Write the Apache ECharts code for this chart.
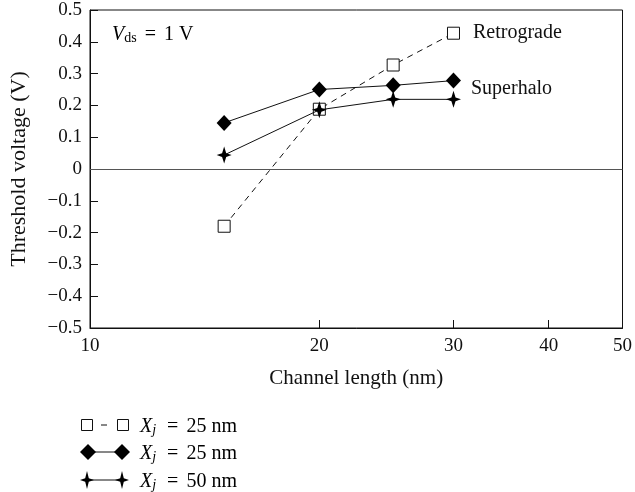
<!DOCTYPE html>
<html><head><meta charset="utf-8">
<script src="https://cdn.jsdelivr.net/npm/echarts@6/dist/echarts.min.js"></script>
<style>html,body{margin:0;padding:0;background:#fff}#c{width:635px;height:492px}</style>
</head><body><div id="c"></div>
<script>
const channelLength = [15, 20, 25, 30];
const retrograde = [-0.18, 0.188, 0.327, 0.427];
const superhalo = [0.145, 0.25, 0.263, 0.278];
const xj50 = [0.044, 0.186, 0.219, 0.219];
const xTicks = [10, 20, 30, 40, 50];
const legendNames = ['25', '25', '50'];

const FONT = '"Liberation Serif", "Times New Roman", serif';
const STAR = 'path://M0,-10 L2.2,-2.2 L8,0 L2.2,2.2 L0,10 L-2.2,2.2 L-8,0 L-2.2,-2.2 Z';
const pairs = ys => channelLength.map((x, i) => [x, ys[i]]);
const fmtMinus = v => String(v).replace('-', '\u2212');

const chart = echarts.init(document.getElementById('c'), null, {renderer: 'canvas'});
const rich = {
  n: {fontFamily: FONT, fontSize: 20, lineHeight: 20, color: '#111'},
  e: {fontFamily: FONT, fontSize: 20, lineHeight: 20, color: '#111', padding: [0, 8]},
  i: {fontFamily: FONT, fontSize: 20, lineHeight: 20, fontStyle: 'italic', color: '#111'},
  s: {fontFamily: FONT, fontSize: 14, lineHeight: 14, fontStyle: 'italic', color: '#111', verticalAlign: 'bottom', padding: [0, 3, 0, 0]},
  s2: {fontFamily: FONT, fontSize: 14, lineHeight: 14, color: '#111', verticalAlign: 'bottom'}
};
const legendY = [425, 452, 480];
const graphics = [];
// legend rows
graphics.push({type:'line', shape:{x1:101,y1:425,x2:107,y2:425}, style:{stroke:'#111', lineWidth:1}});
graphics.push({type:'rect', shape:{x:81.5,y:419.5,width:11,height:11}, style:{fill:'#fff', stroke:'#111', lineWidth:1}});
graphics.push({type:'rect', shape:{x:117.5,y:419.5,width:11,height:11}, style:{fill:'#fff', stroke:'#111', lineWidth:1}});
graphics.push({type:'line', shape:{x1:88,y1:452,x2:122,y2:452}, style:{stroke:'#111', lineWidth:1}});
graphics.push({type:'polygon', shape:{points:[[88,444],[96,452],[88,460],[80,452]]}, style:{fill:'#000'}});
graphics.push({type:'polygon', shape:{points:[[122,444],[130,452],[122,460],[114,452]]}, style:{fill:'#000'}});
graphics.push({type:'line', shape:{x1:87,y1:480,x2:122,y2:480}, style:{stroke:'#111', lineWidth:1}});
[87,122].forEach(cx => {
  graphics.push({type:'polygon', shape:{points:[[cx,471],[cx+1.8,478.2],[cx+7,480],[cx+1.8,481.8],[cx,489],[cx-1.8,481.8],[cx-7,480],[cx-1.8,478.2]]}, style:{fill:'#000'}});
});
legendNames.forEach((v, k) => {
  graphics.push({type:'text', style:{x:140, y:legendY[k] + 2, verticalAlign:'middle', text:'{i|X}{s|j}{e|=}{n|' + v + ' nm}', rich: rich}});
});
graphics.push({type:'text', style:{x:112, y:35, verticalAlign:'middle', text:'{i|V}{s2|ds}{e|=}{n|1 V}', rich: rich}});
graphics.push({type:'text', style:{x:473, y:33, verticalAlign:'middle', text:'Retrograde', font:'20px "Liberation Serif"', fill:'#111'}});
graphics.push({type:'text', style:{x:471, y:89, verticalAlign:'middle', text:'Superhalo', font:'20px "Liberation Serif"', fill:'#111'}});

chart.setOption({
  animation: false,
  backgroundColor: '#fff',
  grid: {left: 88, top: 10, right: 11, bottom: 164, show: true, borderColor: '#111', borderWidth: 1},
  xAxis: {
    type: 'log', logBase: 10, min: 10, max: 50,
    name: 'Channel length (nm)', nameLocation: 'middle', nameGap: 40,
    nameTextStyle: {fontFamily: FONT, fontSize: 21, color: '#111'},
    axisLine: {show: true, onZero: false, lineStyle: {color: '#111', width: 1}},
    axisTick: {show: true, inside: true, length: 8, lineStyle: {color: '#111'}, customValues: xTicks},
    axisLabel: {fontFamily: FONT, fontSize: 19, color: '#111', margin: 9, customValues: xTicks, formatter: v => String(Math.round(v))},
    splitLine: {show: false}, minorTick: {show: false}
  },
  yAxis: {
    type: 'value', min: -0.5, max: 0.5, interval: 0.1,
    name: 'Threshold voltage (V)', nameLocation: 'middle', nameGap: 60,
    nameTextStyle: {fontFamily: FONT, fontSize: 22, color: '#111'},
    axisLine: {show: true, lineStyle: {color: '#111', width: 1}},
    axisTick: {show: true, inside: true, length: 8, lineStyle: {color: '#111'}},
    axisLabel: {fontFamily: FONT, fontSize: 19, color: '#111', margin: 8,
      formatter: v => { const r = Math.round(v * 10) / 10; return r === 0 ? '0' : fmtMinus(r.toFixed(1)); }},
    splitLine: {show: false}
  },
  series: [
    {type: 'line', data: pairs(retrograde), symbol: 'rect', symbolSize: 12,
     itemStyle: {color: '#fff', borderColor: '#111', borderWidth: 1},
     lineStyle: {color: '#111', width: 1, type: [6, 5]}, z: 3,
     markLine: {silent: true, symbol: 'none', label: {show: false},
       lineStyle: {color: '#555', width: 1.2, type: 'solid'}, data: [{yAxis: 0}]}},
    {type: 'line', data: pairs(superhalo), symbol: 'diamond', symbolSize: [15, 16],
     itemStyle: {color: '#000'}, lineStyle: {color: '#111', width: 1}, z: 4},
    {type: 'line', data: pairs(xj50), symbol: STAR, symbolSize: [15, 17],
     itemStyle: {color: '#000'}, lineStyle: {color: '#111', width: 1}, z: 5}
  ],
  graphic: graphics
});
</script></body></html>
